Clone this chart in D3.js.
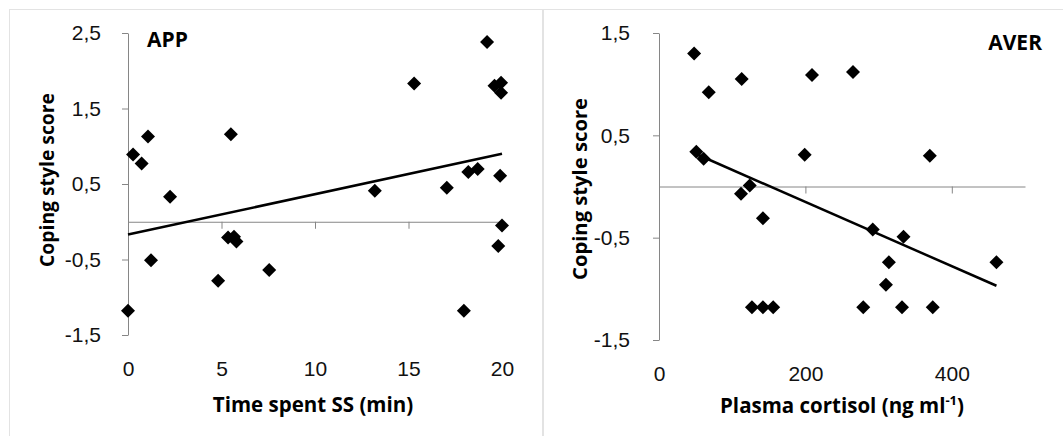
<!DOCTYPE html>
<html>
<head>
<meta charset="utf-8">
<script src="https://cdn.jsdelivr.net/npm/d3@7"></script>
<style>
  body { margin: 0; background: #fff; }
  svg { display: block; font-family: "Open Sans", sans-serif; }
  .axis path, .axis line { stroke: #868686; stroke-width: 1; }
  .axis text { font-size: 21px; fill: #111; }
</style>
</head>
<body>
<svg id="svg"></svg>
<script>
// APP panel: time spent in the startle zone vs coping style score
let appTime  = [19.2, 15.3, 19.6, 19.95, 19.95, 1.07, 5.5, 0.27, 0.73, 2.25, 13.2, 17.05, 18.2, 18.7, 19.9,
                20.0, 19.8, 5.35, 5.67, 5.8, 1.23, 7.55, 4.82, 0.0, 17.96];
let appScore = [2.38, 1.83, 1.80, 1.84, 1.71, 1.13, 1.16, 0.89, 0.77, 0.33, 0.41, 0.45, 0.66, 0.70, 0.61,
                -0.05, -0.32, -0.21, -0.20, -0.26, -0.51, -0.64, -0.78, -1.18, -1.18];
let appTrendX = [0, 20];
let appTrendY = [-0.17, 0.90];

// AVER panel: plasma cortisol vs coping style score
let averCort  = [48, 68, 113, 209, 265, 51, 61, 199, 370, 112, 124, 142,
                 292, 334, 314, 461, 310, 127, 142, 156, 279, 332, 374];
let averScore = [1.30, 0.92, 1.05, 1.09, 1.12, 0.34, 0.27, 0.31, 0.30, -0.07, 0.01, -0.31,
                 -0.42, -0.49, -0.74, -0.74, -0.96, -1.18, -1.18, -1.18, -1.18, -1.18, -1.18];
let averTrendX = [50, 461];
let averTrendY = [0.32, -0.97];

let appYTicks = [-1.5, -0.5, 0.5, 1.5, 2.5];
let appXTicks = [0, 5, 10, 15, 20];
let averYTicks = [-1.5, -0.5, 0.5, 1.5];
let averXTicks = [0, 200, 400];

let svg = d3.select('#svg').attr('width', 1063).attr('height', 436);

// panel frames
svg.append('rect').attr('x', 9.5).attr('y', 9.5).attr('width', 533).attr('height', 440)
   .style('fill', 'none').style('stroke', '#e3e3e3');
svg.append('rect').attr('x', 543.5).attr('y', 9.5).attr('width', 540).attr('height', 440)
   .style('fill', 'none').style('stroke', '#e3e3e3');

let commaFmt = d => d3.format('.1f')(d).replace('.', ',').replace('\u2212', '-');

function drawPanel(p) {
   let xs = d3.scaleLinear().domain(p.xDomain).range(p.xRange);
   let ys = d3.scaleLinear().domain(p.yDomain).range(p.yRange);
   let g = svg.append('g');

   // x axis at y = 0, labels pushed down below the plot
   g.append('g').attr('class', 'axis')
      .attr('transform', 'translate(0,' + ys(0) + ')')
      .call(d3.axisBottom(xs).tickValues(p.xTicks).tickSize(7).tickSizeOuter(0)
         .tickPadding(ys(p.yDomain[0]) - ys(0) + 19).tickFormat(d3.format('d')))
      .call(a => a.selectAll('.tick').filter(d => d === 0).select('line').remove());

   g.append('g').attr('class', 'axis')
      .attr('transform', 'translate(' + xs(p.xDomain[0]) + ',0)')
      .call(d3.axisLeft(ys).tickValues(p.yTicks).tickSize(6).tickSizeOuter(0)
         .tickPadding(p.yPad).tickFormat(commaFmt));

   g.append('line')
      .attr('x1', xs(p.trendX[0])).attr('y1', ys(p.trendY[0]))
      .attr('x2', xs(p.trendX[1])).attr('y2', ys(p.trendY[1]))
      .style('stroke', '#000').style('stroke-width', 2.5);

   let diamond = d3.symbol().type(d3.symbolSquare).size(98);
   g.selectAll('path.pt').data(p.xs).enter().append('path')
      .attr('class', 'pt')
      .attr('d', diamond)
      .attr('transform', (d, i) => 'translate(' + xs(d) + ',' + ys(p.ys[i]) + ') rotate(45)')
      .style('fill', '#000');

   g.append('text').attr('x', p.tagX).attr('y', p.tagY).attr('text-anchor', p.tagAnchor)
      .style('font-size', '21px').style('font-weight', 'bold').text(p.tag);

   g.append('text')
      .attr('transform', 'translate(' + p.yTitleX + ',' + p.yTitleY + ') rotate(-90)')
      .attr('text-anchor', 'middle')
      .attr('textLength', p.yTitleLen).attr('lengthAdjust', 'spacingAndGlyphs')
      .style('font-size', '20px').style('font-weight', 'bold').text('Coping style score');

   let xt = g.append('text').attr('x', p.xTitleX).attr('y', p.xTitleY).attr('text-anchor', 'middle')
      .style('font-size', '20.5px').style('font-weight', 'bold');
   xt.append('tspan').text(p.xTitle);
   if (p.xTitleSup) {
      xt.append('tspan').attr('dy', -8).style('font-size', '13px').text(p.xTitleSup);
      xt.append('tspan').attr('dy', 8).text(')');
   }
}

drawPanel({
   xs: appTime, ys: appScore, trendX: appTrendX, trendY: appTrendY,
   xDomain: [0, 20], xRange: [128, 502], yDomain: [-1.5, 2.5], yRange: [335, 33],
   xTicks: appXTicks, yTicks: appYTicks, yPad: 21,
   tag: 'APP', tagX: 147, tagY: 47, tagAnchor: 'start',
   yTitleX: 54, yTitleY: 180, yTitleLen: 174,
   xTitle: 'Time spent SS (min)', xTitleX: 313, xTitleY: 412
});

drawPanel({
   xs: averCort, ys: averScore, trendX: averTrendX, trendY: averTrendY,
   xDomain: [0, 500], xRange: [659, 1025], yDomain: [-1.5, 1.5], yRange: [340, 33],
   xTicks: averXTicks, yTicks: averYTicks, yPad: 23,
   tag: 'AVER', tagX: 1042, tagY: 50, tagAnchor: 'end',
   yTitleX: 587, yTitleY: 189, yTitleLen: 182,
   xTitle: 'Plasma cortisol (ng ml', xTitleSup: '-1', xTitleX: 842, xTitleY: 413
});
</script>
</body>
</html>
